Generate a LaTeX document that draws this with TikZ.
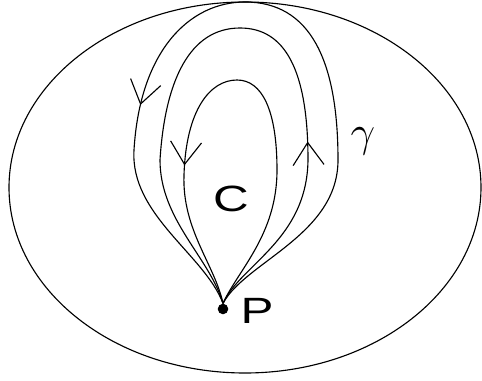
\documentclass[tikz,border=0pt]{standalone}
\usepackage{fontspec}
\newfontfamily\labelfont{Liberation Sans}
\usetikzlibrary{arrows.meta, decorations.markings}

\tikzset{
  loopline/.style={line width=0.8pt},
  flow/.style={postaction={decorate}, decoration={markings,
      mark=at position #1 with {\arrow[line width=0.8pt]{Straight Barb[length=16pt,width=22pt]}}}},
  letter/.style={font=\labelfont\fontsize{26}{30}\selectfont, inner sep=0pt}
}

\begin{document}
\begin{tikzpicture}[x=0.025cm, y=-0.025cm]
    \useasboundingbox (0,0) rectangle (482,381);
    % the region
    \draw[loopline] (245,187.5) ellipse [x radius=236, y radius=185.5];

    % base point
    \node[circle, fill=black, inner sep=0pt, minimum size=7.5pt] (P) at (223,309) {};
    \node[letter] (Plabel) at (257,311) {\scalebox{1.35}[1]{P}};
    \node[letter] (Clabel) at (231,199) {\scalebox{1.35}[1]{C}};
    \node[inner sep=0pt, font=\Huge] (gamma) at (363,141) {\scalebox{1.25}{$\gamma$}};

    % outer loop
    \draw[loopline, flow=0.71] (P.north)
      .. controls (245,262) and (338,235) .. (338,160)
      .. controls (338,60) and (310,2) .. (245,2)
      .. controls (190,2) and (140,50) .. (134,150)
      .. controls (130,215) and (205,255) .. (P.north);
    % middle loop
    \draw[loopline, flow=0.285] (P.north)
      .. controls (240,265) and (307,240) .. (308,160)
      .. controls (308,70) and (285,28) .. (240,28)
      .. controls (190,28) and (165,80) .. (160,160)
      .. controls (160,220) and (210,258) .. (P.north);
    % inner loop
    \draw[loopline, flow=0.715] (P.north)
      .. controls (238,270) and (277,235) .. (277,170)
      .. controls (277,110) and (262,80) .. (237,80)
      .. controls (210,80) and (186,110) .. (184,175)
      .. controls (182,230) and (215,265) .. (P.north);
  \end{tikzpicture}
\end{document}
